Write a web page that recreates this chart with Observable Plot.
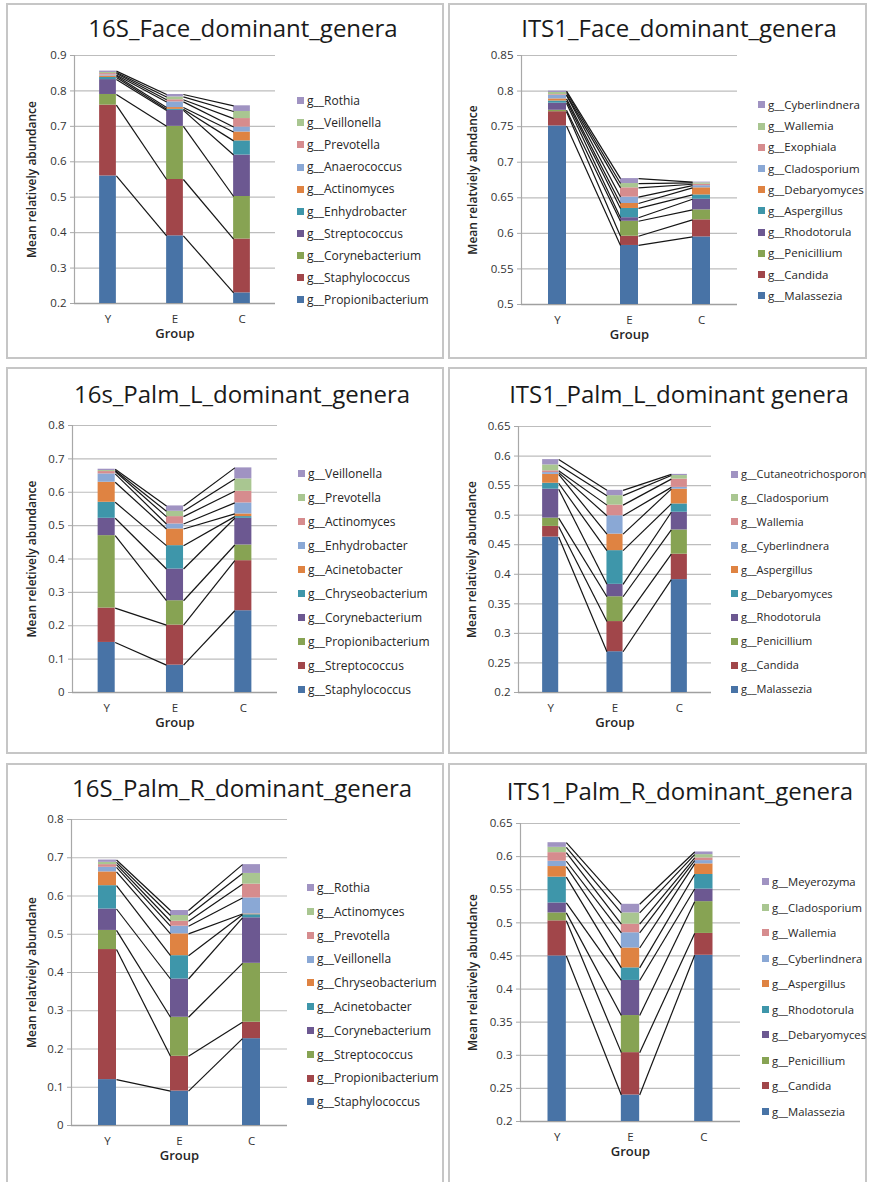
<!DOCTYPE html>
<html><head><meta charset="utf-8">
<script src="https://cdn.jsdelivr.net/npm/d3@7"></script>
<script src="https://cdn.jsdelivr.net/npm/@observablehq/plot@0.6"></script>
<style>
body{margin:0;background:#fff;font-family:"Open Sans",sans-serif;}
#root{position:relative;width:870px;height:1182px;overflow:hidden;}
.panel{position:absolute;border:2px solid #c6c6c6;box-sizing:border-box;}
.title{position:absolute;transform:translate(-50%,-50%);font-size:24px;font-weight:500;white-space:nowrap;color:#1a1a1a;}
.leg{position:absolute;font-size:12px;color:#262626;white-space:nowrap;transform:translateY(-50%);line-height:14px;}
.leg span{display:inline-block;width:7px;height:7px;margin-right:3px;vertical-align:middle;position:relative;top:-1px;}
svg.chart{position:absolute;}
</style></head><body><div id="root"></div>
<script>
const groups = ["Y", "E", "C"];
const palette = ["#4873a6", "#a1464a", "#87a353", "#6c5891", "#3e96aa", "#df8342", "#8aa8d5", "#d68c8e", "#a9c691", "#a093c2"];

// Panel 1: 16S face
const face16Title = "16S_Face_dominant_genera";
const face16Genera = ["g__Propionibacterium", "g__Staphylococcus", "g__Corynebacterium", "g__Streptococcus", "g__Enhydrobacter", "g__Actinomyces", "g__Anaerococcus", "g__Prevotella", "g__Veillonella", "g__Rothia"];
const face16Y = [0.56, 0.20, 0.03, 0.042, 0.006, 0.004, 0.003, 0.004, 0.003, 0.004];
const face16E = [0.391, 0.159, 0.15, 0.045, 0.003, 0.005, 0.016, 0.006, 0.008, 0.007];
const face16C = [0.23, 0.152, 0.12, 0.117, 0.040, 0.025, 0.014, 0.024, 0.020, 0.016];
const face16Ticks = [0.2, 0.3, 0.4, 0.5, 0.6, 0.7, 0.8, 0.9];
const face16YLabel = "Mean relatively abundance";

// Panel 2: ITS1 face
const faceITSTitle = "ITS1_Face_dominant_genera";
const faceITSGenera = ["g__Malassezia", "g__Candida", "g__Penicillium", "g__Rhodotorula", "g__Aspergillus", "g__Debaryomyces", "g__Cladosporium", "g__Exophiala", "g__Wallemia", "g__Cyberlindnera"];
const faceITSY = [0.751, 0.020, 0.002, 0.010, 0.003, 0.003, 0.005, 0.001, 0.003, 0.002];
const faceITSE = [0.583, 0.013, 0.021, 0.005, 0.013, 0.007, 0.009, 0.013, 0.006, 0.007];
const faceITSC = [0.595, 0.024, 0.014, 0.015, 0.006, 0.010, 0.003, 0.002, 0.002, 0.001];
const faceITSTicks = [0.5, 0.55, 0.6, 0.65, 0.7, 0.75, 0.8, 0.85];
const faceITSYLabel = "Mean relatviely abndance";

// Panel 3: 16S palm L
const palmL16Title = "16s_Palm_L_dominant_genera";
const palmL16Genera = ["g__Staphylococcus", "g__Streptococcus", "g__Propionibacterium", "g__Corynebacterium", "g__Chryseobacterium", "g__Acinetobacter", "g__Enhydrobacter", "g__Actinomyces", "g__Prevotella", "g__Veillonella"];
const palmL16Y = [0.15, 0.103, 0.217, 0.052, 0.048, 0.06, 0.025, 0.007, 0.003, 0.004];
const palmL16E = [0.082, 0.12, 0.073, 0.095, 0.07, 0.05, 0.015, 0.022, 0.016, 0.016];
const palmL16C = [0.245, 0.15, 0.047, 0.08, 0.005, 0.008, 0.033, 0.035, 0.037, 0.033];
const palmL16Ticks = [0, 0.1, 0.2, 0.3, 0.4, 0.5, 0.6, 0.7, 0.8];
const palmL16YLabel = "Mean reletively abundance";

// Panel 4: ITS1 palm L
const palmLITSTitle = "ITS1_Palm_L_dominant genera";
const palmLITSGenera = ["g__Malassezia", "g__Candida", "g__Penicillium", "g__Rhodotorula", "g__Debaryomyces", "g__Aspergillus", "g__Cyberlindnera", "g__Wallemia", "g__Cladosporium", "g__Cutaneotrichosporon"];
const palmLITSY = [0.463, 0.018, 0.014, 0.049, 0.010, 0.015, 0.003, 0.003, 0.010, 0.009];
const palmLITSE = [0.269, 0.051, 0.042, 0.021, 0.057, 0.028, 0.031, 0.018, 0.016, 0.009];
const palmLITSC = [0.391, 0.043, 0.041, 0.030, 0.014, 0.025, 0.003, 0.014, 0.006, 0.002];
const palmLITSTicks = [0.2, 0.25, 0.3, 0.35, 0.4, 0.45, 0.5, 0.55, 0.6, 0.65];
const palmLITSYLabel = "Mean relatively abundance";

// Panel 5: 16S palm R
const palmR16Title = "16S_Palm_R_dominant_genera";
const palmR16Genera = ["g__Staphylococcus", "g__Propionibacterium", "g__Streptococcus", "g__Corynebacterium", "g__Acinetobacter", "g__Chryseobacterium", "g__Veillonella", "g__Prevotella", "g__Actinomyces", "g__Rothia"];
const palmR16Y = [0.12, 0.34, 0.05, 0.056, 0.061, 0.036, 0.012, 0.007, 0.006, 0.006];
const palmR16E = [0.09, 0.091, 0.102, 0.10, 0.061, 0.057, 0.02, 0.013, 0.015, 0.013];
const palmR16C = [0.227, 0.043, 0.154, 0.119, 0.008, 0.002, 0.042, 0.036, 0.028, 0.023];
const palmR16Ticks = [0, 0.1, 0.2, 0.3, 0.4, 0.5, 0.6, 0.7, 0.8];
const palmR16YLabel = "Mean relatviely abundane";

// Panel 6: ITS1 palm R
const palmRITSTitle = "ITS1_Palm_R_dominant_genera";
const palmRITSGenera = ["g__Malassezia", "g__Candida", "g__Penicillium", "g__Debaryomyces", "g__Rhodotorula", "g__Aspergillus", "g__Cyberlindnera", "g__Wallemia", "g__Cladosporium", "g__Meyerozyma"];
const palmRITSY = [0.45, 0.053, 0.012, 0.015, 0.039, 0.016, 0.008, 0.013, 0.008, 0.007];
const palmRITSE = [0.24, 0.064, 0.056, 0.053, 0.019, 0.03, 0.023, 0.013, 0.017, 0.013];
const palmRITSC = [0.451, 0.033, 0.048, 0.019, 0.022, 0.016, 0.005, 0.004, 0.005, 0.004];
const palmRITSTicks = [0.2, 0.25, 0.3, 0.35, 0.4, 0.45, 0.5, 0.55, 0.6, 0.65];
const palmRITSYLabel = "Mean relatively abundance";

const xLabel = "Group";

const panels = [
  {title: face16Title, genera: face16Genera, values: [face16Y, face16E, face16C], ticks: face16Ticks, ylabel: face16YLabel},
  {title: faceITSTitle, genera: faceITSGenera, values: [faceITSY, faceITSE, faceITSC], ticks: faceITSTicks, ylabel: faceITSYLabel},
  {title: palmL16Title, genera: palmL16Genera, values: [palmL16Y, palmL16E, palmL16C], ticks: palmL16Ticks, ylabel: palmL16YLabel},
  {title: palmLITSTitle, genera: palmLITSGenera, values: [palmLITSY, palmLITSE, palmLITSC], ticks: palmLITSTicks, ylabel: palmLITSYLabel},
  {title: palmR16Title, genera: palmR16Genera, values: [palmR16Y, palmR16E, palmR16C], ticks: palmR16Ticks, ylabel: palmR16YLabel},
  {title: palmRITSTitle, genera: palmRITSGenera, values: [palmRITSY, palmRITSE, palmRITSC], ticks: palmRITSTicks, ylabel: palmRITSYLabel}
];

// layout (page pixels)
const layouts = [
  {box: [6, 3, 438, 356], frame: {l: 74, r: 275, t: 55, b: 303}, title: [243, 27], legend: [297, 101, 22.1, 12], ylo: 47},
  {box: [448, 3, 419, 356], frame: {l: 521, r: 737, t: 55, b: 304}, title: [679, 27], legend: [758, 105, 21.2, 11.5], ylo: 53},
  {box: [6, 367, 438, 387], frame: {l: 72, r: 277, t: 425, b: 692}, title: [242, 393], legend: [298, 474, 24, 12], ylo: 45},
  {box: [448, 367, 419, 387], frame: {l: 518, r: 711, t: 426, b: 692}, title: [679, 393], legend: [731, 474, 23.9, 11], ylo: 51},
  {box: [6, 763, 438, 440], frame: {l: 71, r: 287, t: 819, b: 1125}, title: [242, 787], legend: [307, 888, 23.8, 12], ylo: 44},
  {box: [448, 763, 419, 440], frame: {l: 520, r: 740, t: 823, b: 1121}, title: [680, 790], legend: [762, 882, 25.5, 11.3], ylo: 52}
];

const root = document.getElementById("root");
const hw = 0.125; // half bar width in group units

panels.forEach((p, pi) => {
  const L = layouts[pi];
  const box = document.createElement("div");
  box.className = "panel";
  Object.assign(box.style, {left: L.box[0] + "px", top: L.box[1] + "px", width: L.box[2] + "px", height: L.box[3] + "px"});
  root.appendChild(box);

  const t = document.createElement("div");
  t.className = "title";
  t.textContent = p.title;
  t.style.left = L.title[0] + "px";
  t.style.top = L.title[1] + "px";
  root.appendChild(t);

  const tops = p.values.map(v => Array.from(d3.cumsum(v)));
  const rects = [];
  p.values.forEach((vals, gi) => vals.forEach((v, k) => rects.push({genus: p.genera[k], x1: gi - hw, x2: gi + hw, y1: tops[gi][k] - v, y2: tops[gi][k]})));
  const links = [];
  for (let gi = 0; gi < groups.length - 1; gi++) {
    p.genera.forEach((g, k) => links.push({x1: gi + hw, x2: gi + 1 - hw, y1: tops[gi][k], y2: tops[gi + 1][k]}));
  }
  const yMin = p.ticks[0], yMax = p.ticks[p.ticks.length - 1];
  const svgLeft = L.box[0] + 2, svgTop = L.frame.t - 15;
  const mb = 55;
  const chart = Plot.plot({
    width: L.frame.r + 15 - svgLeft,
    height: L.frame.b + mb - svgTop,
    marginLeft: L.frame.l - svgLeft,
    marginRight: 15,
    marginTop: 15,
    marginBottom: mb,
    x: {domain: [-0.5, 2.5]},
    y: {domain: [yMin, yMax]},
    color: {domain: p.genera, range: palette},
    style: {fontFamily: '"Open Sans", sans-serif', fontSize: "11.5px", color: "#333", background: "transparent", overflow: "visible"},
    marks: [
      Plot.gridY(p.ticks, {stroke: "#bdbdbd", strokeOpacity: 1, strokeWidth: 1.2}),
      Plot.axisY({ticks: p.ticks, tickSize: 4, tickPadding: 4, stroke: "#a8a8a8", tickFormat: d => String(+d.toFixed(2)), label: null}),
      Plot.axisX({ticks: [0, 1, 2], tickSize: 0, tickPadding: 11, tickFormat: i => groups[i], label: null}),
      Plot.ruleX([-0.5], {stroke: "#a8a8a8", strokeWidth: 1.2}),
      Plot.ruleY([yMin], {stroke: "#a0a0a0", strokeWidth: 1.3}),
      Plot.rect(rects, {x1: "x1", x2: "x2", y1: "y1", y2: "y2", fill: "genus", clip: true}),
      Plot.link(links, {x1: "x1", x2: "x2", y1: "y1", y2: "y2", stroke: "#151515", strokeWidth: 1.2}),
      Plot.text([p.ylabel], {frameAnchor: "left", rotate: -90, dx: -L.ylo, lineAnchor: "top", textAnchor: "middle", fontSize: 12, fontWeight: 600, fill: "#262626"}),
      Plot.text([xLabel], {frameAnchor: "bottom", dy: 34, fontSize: 13, fontWeight: 600, fill: "#262626"})
    ]
  });
  chart.classList.add("chart");
  chart.style.left = svgLeft + "px";
  chart.style.top = svgTop + "px";
  root.appendChild(chart);

  const n = p.genera.length;
  p.genera.slice().reverse().forEach((g, j) => {
    const k = n - 1 - j;
    const d = document.createElement("div");
    d.className = "leg";
    d.style.left = L.legend[0] + "px";
    d.style.top = (L.legend[1] + j * L.legend[2]) + "px";
    d.style.fontSize = L.legend[3] + "px";
    const sw = document.createElement("span");
    sw.style.background = palette[k];
    d.appendChild(sw);
    d.appendChild(document.createTextNode(g));
    root.appendChild(d);
  });
});
</script></body></html>
